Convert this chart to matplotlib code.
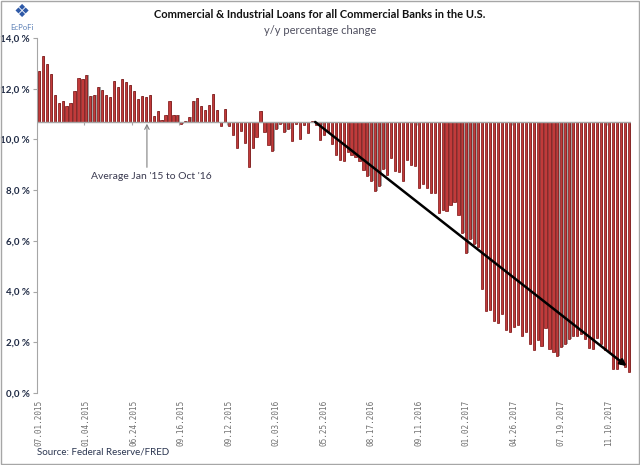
import matplotlib
matplotlib.use("Agg")
import matplotlib.pyplot as plt
import numpy as np
from matplotlib.patches import Rectangle

# ---- data ----
AVG = 10.69  # average Jan '15 to Oct '16 (axis crossing)
values = [
    12.70, 13.29, 12.98, 12.57, 11.75, 11.43, 11.51, 11.32, 11.44, 11.90,
    12.41, 12.37, 12.54, 11.70, 11.75, 12.08, 11.93, 11.75, 11.66, 12.31,
    12.07, 12.39, 12.28, 12.15, 11.90, 11.60, 11.73, 11.69, 11.75, 10.93,
    11.12, 10.77, 10.95, 11.53, 10.95, 10.98, 10.60, 10.73, 10.87, 11.52,
    11.65, 11.32, 11.15, 11.35, 11.79, 11.18, 10.53, 11.20, 10.51, 10.16,
    9.68, 10.35, 9.85, 8.93, 9.66, 10.11, 11.14, 10.30, 9.78, 9.55,
    10.41, 10.61, 10.30, 10.41, 9.93, 10.61, 10.02, 10.56, 10.24, 10.73,
    10.58, 9.98, 10.18, 10.30, 9.81, 9.39, 9.19, 9.14, 9.49, 9.40,
    9.30, 9.14, 8.81, 8.55, 8.35, 7.98, 8.15, 8.84, 8.61, 9.27,
    8.77, 8.72, 8.35, 9.20, 8.98, 8.94, 8.09, 8.26, 8.09, 7.89,
    7.89, 7.10, 7.23, 7.17, 7.40, 7.53, 7.01, 6.32, 5.54, 6.09,
    5.86, 5.77, 4.09, 3.23, 3.27, 2.84, 2.77, 3.10, 2.48, 2.42,
    2.60, 2.68, 2.25, 2.42, 1.92, 1.70, 2.08, 1.85, 2.55, 1.72,
    1.62, 1.46, 1.81, 1.92, 2.12, 2.25, 2.25, 2.31, 2.12, 1.79,
    1.75, 2.16, 1.92, 1.68, 1.60, 0.93, 0.93, 1.15, 1.02, 0.84,
]
tick_labels = ["07.01.2015", "01.04.2015", "06.24.2015", "09.16.2015", "09.12.2015",
               "02.03.2016", "05.25.2016", "08.17.2016", "09.11.2016", "01.02.2017",
               "04.26.2017", "07.19.2017", "11.10.2017"]
label_step = 12
y_ticks = [0, 2, 4, 6, 8, 10, 12, 14]
trend_start = (69.8, AVG)
trend_end = (148.5, 1.06)

title = "Commercial & Industrial Loans for all Commercial Banks in the U.S."
subtitle = "y/y percentage change"
source = "Source: Federal Reserve/FRED"
annot = "Average Jan '15 to Oct '16"

# ---- figure ----
plt.rcParams['font.family'] = ['Lato', 'DejaVu Sans']
fig = plt.figure(figsize=(6.4, 4.65), dpi=100)
ax = fig.add_axes([36.5/640, 1-393/465, (631-36.5)/640, (393-38)/465])

x = np.arange(len(values))
vals = np.array(values)
ax.bar(x + 0.3, vals - AVG, bottom=AVG, width=0.55, color='#A3A3A3', zorder=2, linewidth=0)
ax.bar(x, vals - AVG, bottom=AVG, width=0.55, color='#C23A3A', edgecolor='#700000',
       linewidth=0.45, zorder=3)

ax.set_xlim(-0.6, len(values) - 0.4)
ax.set_ylim(0, 14)

# baseline (category axis crossing at the average)
ax.axhline(AVG, color='#A6A6A6', lw=1.0, zorder=4)
ax.vlines(np.arange(-0.5, len(values), label_step), AVG - 0.12, AVG, color='#A6A6A6', lw=0.8, zorder=4)

# x labels at the bottom
ax.set_xticks(np.arange(0, len(values), label_step)[:len(tick_labels)])
ax.set_xticklabels(tick_labels, rotation=90, family='DejaVu Sans Mono', fontsize=5.5, color='#707070')
ax.tick_params(axis='x', length=0, pad=5)

ax.set_yticks(y_ticks)
ax.set_yticklabels([f"{v:.1f}".replace('.', ',') + " %" for v in y_ticks],
                   fontsize=7, color='#1F2A44', fontweight='bold')
ax.tick_params(axis='y', length=3, color='#A6A6A6', pad=2)

for s in ['top', 'right', 'bottom']:
    ax.spines[s].set_visible(False)
ax.spines['left'].set_color('#A6A6A6')

# trend arrow
ax.annotate('', xy=trend_end, xytext=trend_start,
            arrowprops=dict(arrowstyle='-|>', color='black', lw=1.8, mutation_scale=9,
                            shrinkA=0, shrinkB=0), zorder=6)

# average annotation
ax.annotate('', xy=(27.3, 10.62), xytext=(27.3, 8.9),
            arrowprops=dict(arrowstyle='->', color='#808080', lw=0.8, mutation_scale=8,
                            shrinkA=0, shrinkB=0), zorder=6)
ax.text(28.4, 8.52, annot, ha='center', va='center', fontsize=7.5, color='#3A3A50')

# titles
fig.text(0.5, 1-15/465, title, ha='center', va='center', fontsize=8, fontweight='bold', color='#111111')
fig.text(0.5, 1-30/465, subtitle, ha='center', va='center', fontsize=8, color='#505060')
fig.text(37/640, 1-452/465, source, ha='left', va='center', fontsize=7, color='#2A3550')

# logo
fig.text(22/640, 1-12/465, "\u2756", ha='center', va='center', fontsize=13, color='#2F5AA8',
         family='DejaVu Sans')
fig.text(22/640, 1-27/465, "EcPoFi", ha='center', va='center', fontsize=5.5, color='#5A7FB5')

# outer frame
fig.patches.append(Rectangle((0.001, 0.002), 0.997, 0.996, transform=fig.transFigure,
                             fill=False, edgecolor='#A6A6A6', lw=1.0))

fig.savefig('out.png', dpi=100)
